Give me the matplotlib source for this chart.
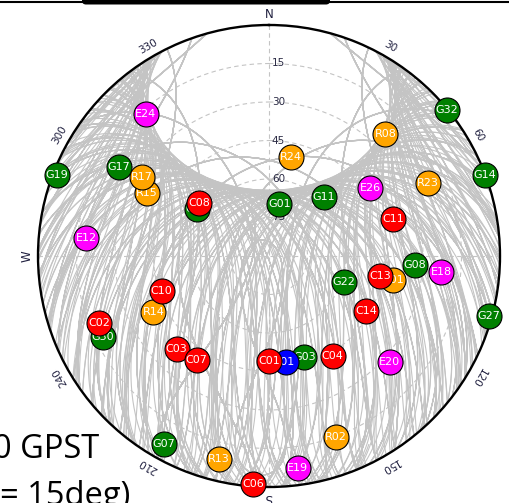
import numpy as np
import matplotlib
matplotlib.use("Agg")
import matplotlib.pyplot as plt
from matplotlib.patches import FancyBboxPatch

# ---------------------------------------------------------------
# Satellite positions at the plotted epoch (azimuth, elevation in deg)
# ---------------------------------------------------------------
gps_ids = ["G32", "G14", "G19", "G17", "G10", "G30", "G07", "G27",
           "G22", "G08", "G11", "G01", "G03"]
gps_az = [50.7, 69.5, 290.9, 300.7, 302.9, 244.0, 209.1, 105.2,
          109.4, 93.5, 42.7, 11.3, 160.7]
gps_el = [0.4, 0.3, 1.5, 22.0, 56.5, 18.0, 6.0, 1.3,
          59.1, 33.0, 58.6, 69.5, 48.4]

glo_ids = ["R08", "R24", "R15", "R17", "R14", "R13", "R02", "R01", "R23"]
glo_az = [43.7, 12.5, 297.4, 301.9, 244.3, 193.8, 159.7, 100.9, 65.2]
glo_el = [24.4, 50.4, 36.3, 31.6, 40.0, 8.6, 14.7, 40.7, 21.9]

gal_ids = ["E24", "E12", "E19", "E20", "E18", "E26"]
gal_az = [319.0, 275.5, 172.3, 131.3, 95.4, 56.2]
gal_el = [16.9, 18.4, 6.5, 27.3, 22.7, 42.6]

qzs_ids = ["J01"]
qzs_az = [170.9]
qzs_el = [48.3]

bds_ids = ["C08", "C10", "C02", "C03", "C07", "C06", "C04", "C01",
           "C14", "C13", "C11"]
bds_az = [307.4, 251.9, 248.6, 224.7, 214.8, 184.0, 147.4, 179.8,
          119.4, 100.1, 73.5]
bds_el = [55.8, 46.0, 18.9, 38.9, 40.6, 0.9, 43.9, 49.2,
          46.6, 46.1, 39.7]

systems = [
    (gps_ids, gps_az, gps_el, "#008000"),
    (glo_ids, glo_az, glo_el, "#FFA500"),
    (gal_ids, gal_az, gal_el, "#FF00FF"),
    (qzs_ids, qzs_az, qzs_el, "#0000FF"),
    (bds_ids, bds_az, bds_el, "#FF0000"),
]

elev_rings = [15, 30, 45, 60, 75]
az_labels = ["N", "30", "60", "E", "120", "150", "S", "210", "240", "W", "300", "330"]
az_label_angles = [0, 30, 60, 90, 120, 150, 180, 210, 240, 270, 300, 330]

# ---------------------------------------------------------------
# Background tracks: circular-orbit propagation of each constellation
# over the observation span, seen from the receiver site
# ---------------------------------------------------------------
GM = 3.986004418e14
WE = 7.2921151467e-5
site_lat, site_lon = np.radians(35.7), np.radians(139.7)
RE = 6371e3
rx = RE * np.array([np.cos(site_lat) * np.cos(site_lon),
                    np.cos(site_lat) * np.sin(site_lon),
                    np.sin(site_lat)])

# (semi-major axis [m], inclination [deg], planes, sats per plane, raan offset, phasing [deg])
meo_constellations = [
    (26560e3, 55.0, 6, 5, 17.0, 11.0),   # GPS
    (25510e3, 64.8, 3, 8, 40.0, 15.0),   # GLONASS
    (29600e3, 56.0, 3, 8, 75.0, 13.0),   # Galileo
    (27906e3, 55.0, 3, 8, 5.0, 15.0),    # BeiDou MEO
]
# (center longitude [deg], inclination [deg], number of sats)
geosync_groups = [
    (118.0, 55.0, 6),   # BeiDou IGSO
    (137.0, 41.0, 3),   # QZSS
]
HOURS = 72.0
t = np.arange(0.0, HOURS * 3600.0 + 1.0, 120.0)


def sky_track(a, inc, raan0, u0, n):
    inc = np.radians(inc)
    u = u0 + n * t
    om = raan0 - WE * t
    x = a * (np.cos(u) * np.cos(om) - np.sin(u) * np.cos(inc) * np.sin(om))
    y = a * (np.cos(u) * np.sin(om) + np.sin(u) * np.cos(inc) * np.cos(om))
    z = a * np.sin(u) * np.sin(inc)
    dx, dy, dz = x - rx[0], y - rx[1], z - rx[2]
    sl, cl = np.sin(site_lon), np.cos(site_lon)
    sp, cp = np.sin(site_lat), np.cos(site_lat)
    e = -sl * dx + cl * dy
    nn = -sp * cl * dx - sp * sl * dy + cp * dz
    up = cp * cl * dx + cp * sl * dy + sp * dz
    az = np.unwrap(np.arctan2(e, nn))
    el = np.degrees(np.arctan2(up, np.hypot(e, nn)))
    el = np.where(el >= 0.0, el, np.nan)
    return az, el


tracks = []
for a, inc, npl, nps, roff, phs in meo_constellations:
    n = np.sqrt(GM / a ** 3)
    for p in range(npl):
        raan0 = np.radians(roff + 360.0 / npl * p)
        for s in range(nps):
            u0 = np.radians(360.0 / nps * s + phs * p)
            tracks.append(sky_track(a, inc, raan0, u0, n))
for lon0, inc, nsat in geosync_groups:
    for s in range(nsat):
        u0 = np.radians(360.0 / nsat * s)
        raan0 = np.radians(lon0) - u0
        tracks.append(sky_track(42164e3, inc, raan0, u0, WE))

# ---------------------------------------------------------------
# Figure
# ---------------------------------------------------------------
W, H = 510, 503
fig = plt.figure(figsize=(W / 100, H / 100), dpi=100)

deco = fig.add_axes([0, 0, 1, 1])
deco.set_xlim(0, W)
deco.set_ylim(H, 0)
deco.axis("off")
deco.plot([0, W], [1.5, 1.5], color="black", lw=1.5, solid_capstyle="butt")
deco.add_patch(FancyBboxPatch((82, -8), 248, 12.5,
                              boxstyle="round,pad=0,rounding_size=4",
                              fc="black", ec="none"))
deco.text(-7, 458, "0 GPST", fontsize=23.5, family="Open Sans",
          ha="left", va="baseline", color="black")
deco.text(0, 505, "= 15deg)", fontsize=23.5, family="Open Sans",
          ha="left", va="baseline", color="black")

cx, cy, R = 269.0, 256.0, 231.0
ax = fig.add_axes([(cx - R) / W, (H - cy - R) / H, 2 * R / W, 2 * R / H],
                  projection="polar")
ax.set_theta_zero_location("N")
ax.set_theta_direction(-1)
ax.set_ylim(90, 0)
ax.set_xticks([])
ax.set_yticks([])
ax.grid(False)
ax.patch.set_alpha(0)
ax.spines["polar"].set_linewidth(1.7)
ax.spines["polar"].set_color("black")
ax.spines["polar"].set_zorder(5)

for az, el in tracks:
    ax.plot(az, el, color="#c4c4c4", lw=0.8, zorder=1)

theta = np.linspace(0, 2 * np.pi, 361)
for e in elev_rings:
    ax.plot(theta, np.full_like(theta, e), color="#c4c4c4", lw=0.8,
            ls=(0, (4, 3)), zorder=2)
for ang in [0, 90]:
    for side in [ang, ang + 180]:
        ax.plot([np.radians(side)] * 2, [0, 90], color="#c4c4c4", lw=0.8,
                ls=(0, (4, 3)), zorder=2)

for e in elev_rings:
    ax.annotate(str(e), xy=(0, e), xytext=(2, 0), textcoords="offset points",
                ha="left", va="center", fontsize=7.5, color="#2a2a44", zorder=3)

k = 242.0 / R
for lab, ang in zip(az_labels, az_label_angles):
    r = np.radians(ang)
    ax.text(0.5 + 0.5 * k * np.sin(r), 0.5 + 0.5 * k * np.cos(r), lab,
            transform=ax.transAxes, rotation=-ang, rotation_mode="anchor",
            ha="center", va="center", fontsize=8.5 if lab.isalpha() else 7.5,
            color="#1f1f3f", clip_on=False)

z = 10
for ids, azs, els, col in systems:
    for sid, a_, e_ in zip(ids, azs, els):
        ax.scatter([np.radians(a_)], [e_], s=324, color=col, edgecolors="black",
                   linewidths=0.8, zorder=z, clip_on=False)
        ax.text(np.radians(a_), e_, sid, ha="center", va="center", fontsize=8,
                color="white", zorder=z + 1, clip_on=False)
        z += 2

fig.savefig("out.png", dpi=100)
